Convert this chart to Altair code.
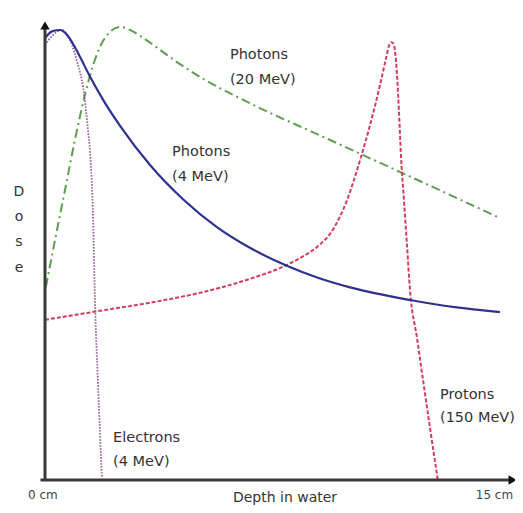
import altair as alt
import pandas as pd

# Depth (cm) and relative dose values
ph4_x = [0.0, 0.23, 0.5, 0.73, 0.93, 1.16, 1.49, 1.98, 2.48, 3.47, 4.56, 5.68, 6.77, 7.99, 8.99, 10.08, 12.06, 13.54, 15.03]
ph4_y = [98.2, 99.7, 100.0, 98.9, 96.9, 94.0, 89.6, 83.8, 78.7, 70.0, 62.4, 56.2, 51.6, 47.6, 45.0, 42.8, 40.0, 38.4, 37.3]

ph20_x = [0.03, 0.33, 0.66, 0.99, 1.32, 1.59, 1.88, 2.15, 2.48, 2.87, 3.30, 3.80, 4.46, 5.29, 6.21, 7.43, 8.75, 10.51, 12.72, 14.97]
ph20_y = [42.9, 53.3, 64.4, 75.6, 85.6, 92.2, 97.1, 99.6, 100.7, 99.8, 98.0, 95.6, 92.4, 88.9, 85.6, 81.6, 77.6, 72.2, 65.4, 58.4]

el_x = [0.0, 0.56, 0.83, 1.09, 1.26, 1.42, 1.49, 1.59, 1.65, 1.75, 1.88]
el_y = [96.7, 100.0, 97.8, 92.2, 87.3, 77.8, 72.7, 57.8, 40.0, 21.6, 0.4]

pr_x = [0.0, 1.82, 3.80, 5.12, 6.77, 7.76, 8.42, 8.99, 9.51, 9.98, 10.41, 10.74, 11.07, 11.27, 11.36, 11.43,
        11.50, 11.56, 11.63, 11.70, 11.76, 11.86, 11.96, 12.06, 12.29, 12.49, 12.72, 12.95, 12.98]
pr_y = [35.6, 37.6, 39.8, 41.6, 44.7, 47.1, 49.3, 51.8, 55.6, 62.2, 71.1, 78.9, 87.8, 93.8, 96.4, 97.3,
        97.1, 95.6, 90.0, 81.1, 72.2, 62.2, 52.2, 42.2, 31.6, 22.2, 11.6, 1.3, 0.0]

label_text = ["Photons", "(20 MeV)", "Photons", "(4 MeV)", "Electrons", "(4 MeV)", "Protons", "(150 MeV)"]
label_x = [6.11, 6.11, 4.2, 4.2, 2.25, 2.25, 13.05, 13.05]
label_y = [94.4, 88.9, 72.9, 67.3, 9.3, 4.0, 18.9, 13.8]

tick_text = ["0 cm", "15 cm"]
tick_x = [-0.07, 14.85]
tick_y = [-3.3, -3.3]

dose_letters = ["D", "o", "s", "e"]
dose_y = [64.0, 58.4, 52.8, 47.2]

xs = alt.Scale(domain=[0, 15], range=[37, 491])
ys = alt.Scale(domain=[0, 100], range=[472, 22])
X = lambda: alt.X("x:Q", scale=xs, axis=None)
Y = lambda: alt.Y("y:Q", scale=ys, axis=None)


def curve(xv, yv, color, dash, width=2.0):
    df = pd.DataFrame({"x": xv, "y": yv})
    kw = dict(color=color, strokeWidth=width, interpolate="monotone", clip=False)
    if dash:
        kw["strokeDash"] = dash
    return alt.Chart(df).mark_line(**kw).encode(x=X(), y=Y())


axis_df = pd.DataFrame({"x": [-0.15, 0.0], "y": [0.0, 0.0], "x2": [15.45, 0.0], "y2": [0.0, 101.3]})
axes = alt.Chart(axis_df).mark_rule(color="#3a3a3a", strokeWidth=3).encode(
    x=X(), y=Y(), x2="x2:Q", y2="y2:Q"
)
arrow_up = alt.Chart(pd.DataFrame({"x": [0.0], "y": [101.0]})).mark_point(
    shape="triangle-up", filled=True, size=90, color="#111", opacity=1
).encode(x=X(), y=Y())
arrow_right = alt.Chart(pd.DataFrame({"x": [15.45], "y": [0.0]})).mark_point(
    shape="triangle-right", filled=True, size=90, color="#111", opacity=1
).encode(x=X(), y=Y())

labels = alt.Chart(pd.DataFrame({"x": label_x, "y": label_y, "t": label_text})).mark_text(
    align="left", baseline="middle", font="DejaVu Sans", fontSize=14.5, color="#333"
).encode(x=X(), y=Y(), text="t:N")

ticks = alt.Chart(pd.DataFrame({"x": tick_x, "y": tick_y, "t": tick_text})).mark_text(
    align="center", baseline="middle", font="DejaVu Sans", fontSize=12, color="#444"
).encode(x=X(), y=Y(), text="t:N")

xtitle = alt.Chart(pd.DataFrame({"x": [7.93], "y": [-5.45], "t": ["Depth in water"]})).mark_text(
    align="center", baseline="bottom", font="DejaVu Sans", fontSize=14, color="#333"
).encode(x=X(), y=Y(), text="t:N")

ytitle = alt.Chart(pd.DataFrame({"x": [-0.86] * 4, "y": dose_y, "t": dose_letters})).mark_text(
    align="center", baseline="middle", font="DejaVu Sans", fontSize=14, color="#333"
).encode(x=X(), y=Y(), text="t:N")

chart = alt.layer(
    curve(ph20_x, ph20_y, "#5f9d52", [9, 4, 2, 4]),
    curve(pr_x, pr_y, "#d43d5a", [4, 2]),
    curve(el_x, el_y, "#94589a", [1.5, 1.5], 1.8),
    curve(ph4_x, ph4_y, "#2e3192", None, 2.2),
    axes, arrow_up, arrow_right, labels, ticks, xtitle, ytitle,
).properties(width=507, height=497, padding=0, autosize="none").configure_view(stroke=None)

chart.save("out.html", embed_options={"renderer": "svg", "actions": False})
